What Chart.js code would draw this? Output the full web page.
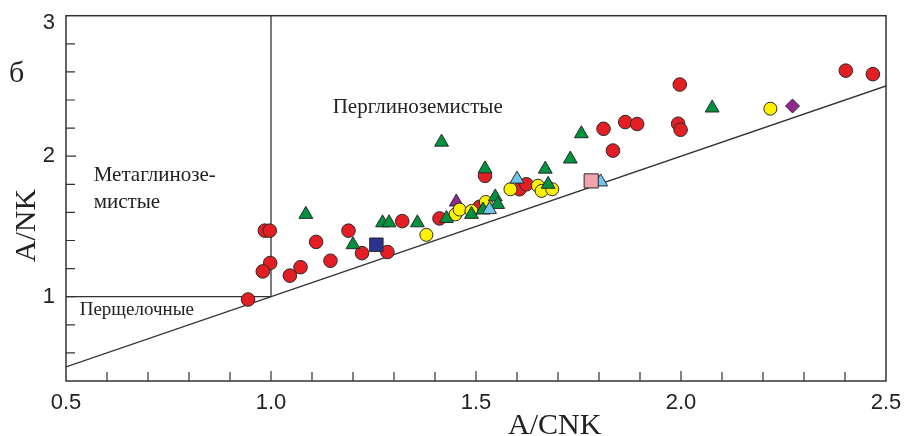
<!DOCTYPE html>
<html><head><meta charset="utf-8">
<script src="https://cdn.jsdelivr.net/npm/chart.js@4"></script>
<style>html,body{margin:0;padding:0;background:#fff}#wrap{width:906px;height:436px;position:relative}</style>
</head><body><div id="wrap"><canvas id="c" width="906" height="436"></canvas></div>
<script>
// ---- data ----
const xTickLabels = ['0.5', '1.0', '1.5', '2.0', '2.5'];
const yTickLabels = ['1', '2', '3'];
const redCircles = [[0.944,0.98],[0.985,1.47],[0.997,1.47],[0.998,1.24],[0.98,1.18],[1.046,1.15],[1.072,1.21],[1.11,1.39],[1.145,1.256],[1.189,1.47],[1.222,1.31],[1.284,1.318],[1.32,1.538],[1.411,1.557],[1.509,1.64],[1.522,1.86],[1.606,1.765],[1.623,1.80],[1.811,2.195],[1.834,2.04],[1.864,2.243],[1.893,2.229],[1.997,2.51],[1.993,2.231],[1.999,2.188],[2.402,2.609],[2.468,2.584]];
const greenTriangles = [[1.085,1.586],[1.2,1.37],[1.272,1.526],[1.288,1.526],[1.357,1.526],[1.416,2.10],[1.428,1.557],[1.489,1.586],[1.517,1.617],[1.547,1.71],[1.553,1.657],[1.522,1.91],[1.669,1.908],[1.676,1.80],[1.73,1.98],[1.757,2.16],[2.076,2.343]];
const yellowCircles = [[1.379,1.44],[1.45,1.586],[1.46,1.62],[1.489,1.61],[1.524,1.674],[1.584,1.765],[1.651,1.79],[1.66,1.753],[1.686,1.765],[2.218,2.338]];
const blueTriangles = [[1.533,1.62],[1.6,1.837],[1.804,1.817]];
const navySquares = [[1.257,1.37]];
const pinkSquares = [[1.781,1.824]];
const purpleTriangles = [[1.452,1.674]];
const purpleDiamonds = [[2.272,2.357]];
const diagonalLine = [[0.5,0.5],[2.5,2.5]];
const peralkalineBoundary = [[0.5,1],[1,1]];
const metaluminousBoundary = [[1,1],[1,3]];
const regionLabels = [
  {text: 'Перглиноземистые', x: 1.1505, y: 2.3075},
  {text: 'Метаглинозе-', x: 0.5676, y: 1.824},
  {text: 'мистые', x: 0.5676, y: 1.634},
  {text: 'Перщелочные', x: 0.5334, y: 0.87}
];

const pts = a => a.map(p => ({x: p[0], y: p[1]}));
const EDGE = '#2a2a2a';
function sc(data, style, color, r, order) {
  return {type: 'scatter', data: pts(data), pointStyle: style, pointRadius: r, pointHoverRadius: r,
    backgroundColor: color, borderColor: EDGE, borderWidth: 1, order: order};
}
function ln(data) {
  return {type: 'line', data: pts(data), borderColor: '#333', borderWidth: 1.3, pointRadius: 0,
    fill: false, tension: 0, order: 20};
}

const isMult = (v, m) => Math.abs(v / m - Math.round(v / m)) < 1e-6;

const decor = {
  id: 'decor',
  beforeDatasetsDraw(chart) {
    const {ctx, chartArea: a, scales: {x, y}} = chart;
    ctx.save();
    ctx.strokeStyle = '#333';
    ctx.lineWidth = 1.5;
    ctx.strokeRect(a.left, a.top, a.right - a.left, a.bottom - a.top);
    ctx.lineWidth = 1.2;
    ctx.beginPath();
    x.ticks.forEach(t => {
      const px = x.getPixelForValue(t.value);
      if (px <= a.left + 1 || px >= a.right - 1) return;
      const len = isMult(t.value, 0.5) ? 10 : 9;
      ctx.moveTo(px, a.bottom); ctx.lineTo(px, a.bottom - len);
    });
    y.ticks.forEach(t => {
      const py = y.getPixelForValue(t.value);
      if (py >= a.bottom - 1 || py <= a.top + 1) return;
      const len = isMult(t.value, 1) ? 10 : 9;
      ctx.moveTo(a.left, py); ctx.lineTo(a.left + len, py);
    });
    ctx.stroke();
    // region labels
    ctx.fillStyle = '#222';
    ctx.textBaseline = 'alphabetic';
    ctx.textAlign = 'left';
    regionLabels.forEach((l, i) => {
      ctx.font = (i === 3 ? '19px' : '21px') + ' "Liberation Serif", "Times New Roman", serif';
      ctx.fillText(l.text, x.getPixelForValue(l.x), y.getPixelForValue(l.y));
    });
    ctx.restore();
  },
  afterDraw(chart) {
    const {ctx} = chart;
    ctx.save();
    ctx.fillStyle = '#222';
    ctx.font = '30px "Liberation Serif", "Times New Roman", serif';
    ctx.textAlign = 'left';
    ctx.textBaseline = 'alphabetic';
    ctx.fillText('б', 9, 82);
    ctx.fillText('A/CNK', 508, 434);
    ctx.translate(35, 225.5);
    ctx.rotate(-Math.PI / 2);
    ctx.textAlign = 'center';
    ctx.fillText('A/NK', 0, 0);
    ctx.restore();
  }
};

new Chart(document.getElementById('c'), {
  type: 'scatter',
  data: {datasets: [
    sc(purpleDiamonds, 'rectRot', '#92278f', 7, 1),
    sc(pinkSquares, 'rect', '#f4a3ad', 10, 2),
    sc(blueTriangles, 'triangle', '#6ec6ef', 8, 3),
    sc(greenTriangles, 'triangle', '#00923f', 8, 4),
    sc(navySquares, 'rect', '#2e3192', 9.5, 5),
    sc(yellowCircles, 'circle', '#fff200', 6.5, 6),
    sc(purpleTriangles, 'triangle', '#92278f', 8, 7),
    sc(redCircles, 'circle', '#e31e24', 6.8, 8),
    ln(diagonalLine), ln(peralkalineBoundary), ln(metaluminousBoundary)
  ]},
  options: {
    responsive: false,
    animation: false,
    devicePixelRatio: 1,
    layout: {padding: {left: 0, top: 15.7, right: 20, bottom: 0}},
    plugins: {legend: {display: false}, tooltip: {enabled: false}},
    scales: {
      x: {
        type: 'linear', min: 0.5, max: 2.5,
        afterFit: s => { s.height = 55; s.paddingLeft = 0; s.paddingRight = 0; },
        grid: {display: false, drawTicks: false},
        border: {display: false},
        ticks: {
          stepSize: 0.1, autoSkip: false, maxRotation: 0, padding: 9,
          color: '#222', font: {family: '"Liberation Sans", Arial, sans-serif', size: 22},
          callback: v => isMult(v, 0.5) ? xTickLabels[Math.round((v - 0.5) * 2)] : ''
        }
      },
      y: {
        type: 'linear', min: 0.4, max: 3,
        afterFit: s => { s.width = 66; s.paddingTop = 0; s.paddingBottom = 0; },
        grid: {display: false, drawTicks: false},
        border: {display: false},
        ticks: {
          stepSize: 0.2, autoSkip: false, padding: 11,
          color: '#222', font: {family: '"Liberation Sans", Arial, sans-serif', size: 22, lineHeight: 0.64},
          callback: v => {
            if (!isMult(v, 1)) return '';
            const lab = yTickLabels[Math.round(v) - 1];
            return Math.round(v) === 3 ? ['', lab] : lab;
          }
        }
      }
    }
  },
  plugins: [decor]
});
</script></body></html>
